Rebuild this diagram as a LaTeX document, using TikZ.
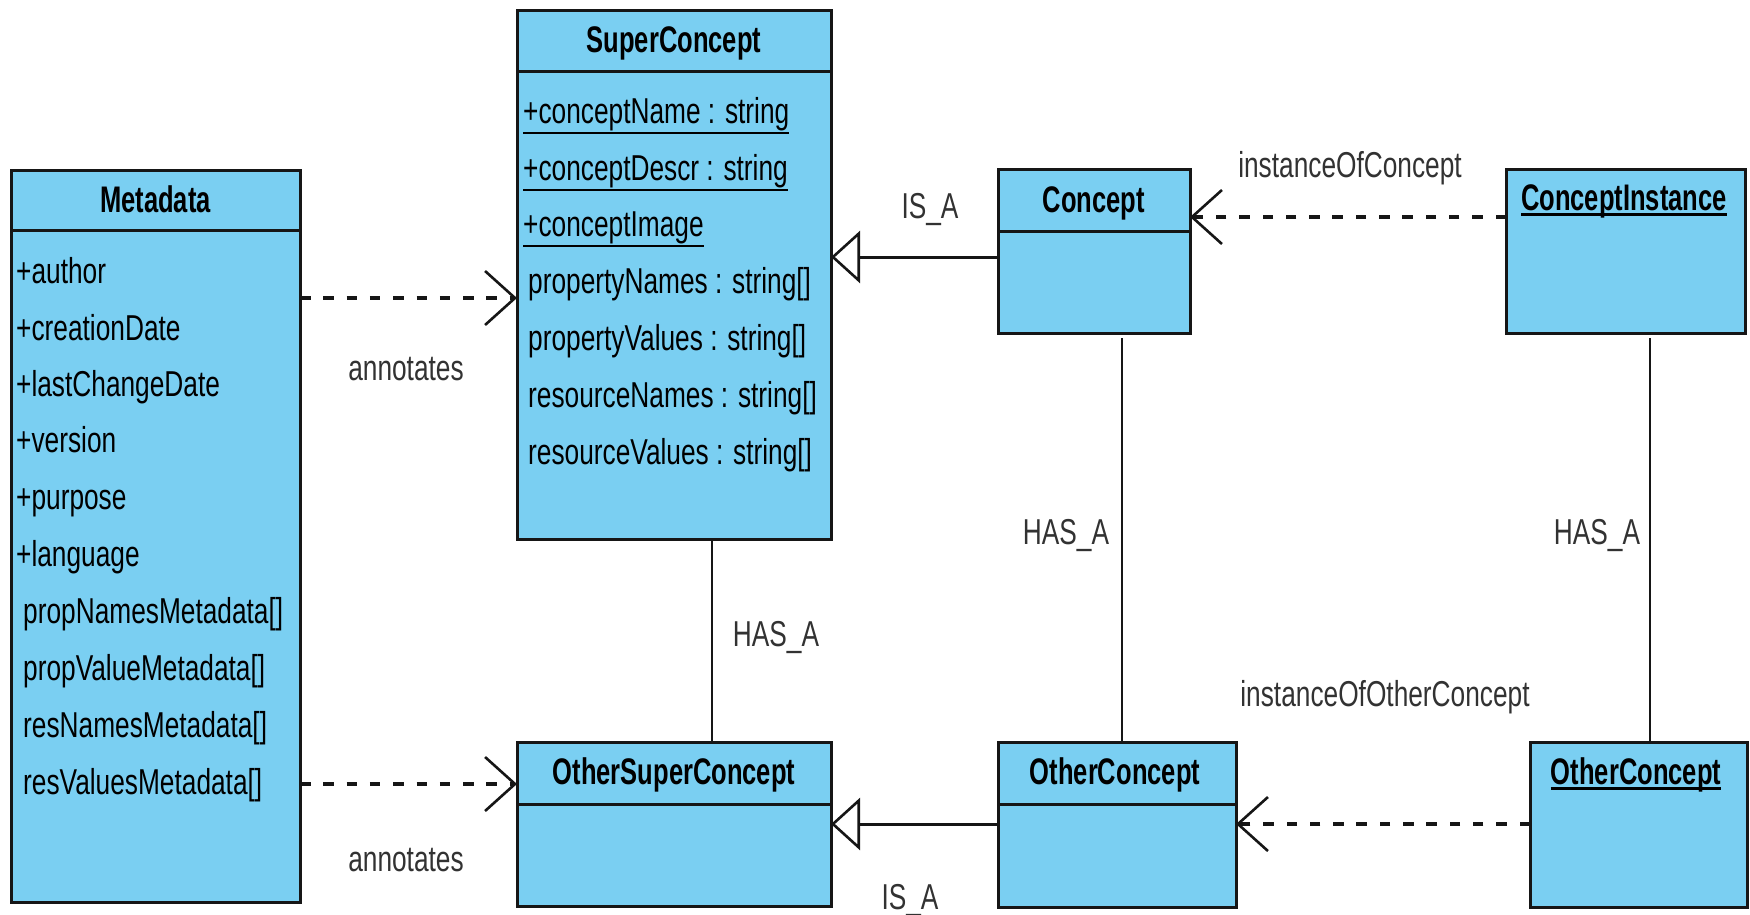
\documentclass[tikz,border=0pt]{standalone}
\usepackage{fontspec}
\usetikzlibrary{arrows.meta}
\newfontfamily\umlreg{Liberation Sans}[FakeStretch=0.73]
\newfontfamily\umlhead{Liberation Sans}[FakeStretch=0.69]
\definecolor{classfill}{RGB}{122,207,242}
\definecolor{edgeline}{RGB}{22,22,22}
\definecolor{labelgray}{RGB}{50,50,50}
% underline a text with a rule of given drop and thickness
\newcommand\umlul[3]{\setbox0\hbox{#3}\rlap{\rule[-#1]{\wd0}{#2}}\box0}
\tikzset{
  classbox/.style={rectangle, draw=edgeline, line width=3pt, fill=classfill,
    inner sep=0pt, outer sep=0pt, anchor=north west},
  sepline/.style={draw=edgeline, line width=3pt},
  title/.style={font=\umlhead\bfseries\fontsize{37}{40}\selectfont, anchor=base,
    inner sep=0pt, text=black},
  attr/.style={font=\umlreg\fontsize{36}{40}\selectfont, anchor=base west,
    inner sep=0pt, text=black},
  lbl/.style={font=\umlreg\fontsize{36}{40}\selectfont, anchor=base,
    inner sep=0pt, text=labelgray},
  dep/.style={draw=edgeline, line width=3.2pt, dash pattern=on 10.5pt off 12.8pt,
    -{Straight Barb[length=30pt,width=54pt,line width=2.6pt]}},
  gen/.style={draw=edgeline, line width=3pt,
    -{Triangle[open,length=29pt,width=52pt,line width=2.6pt]}},
  assoc/.style={draw=edgeline, line width=1.8pt},
}
\begin{document}
\begin{tikzpicture}[x=1pt,y=-1pt]
\useasboundingbox (0,0) rectangle (1750,914);

% class boxes
\node[classbox, minimum width=289pt, minimum height=732pt] (meta)  at (11,170) {};
\node[classbox, minimum width=314pt, minimum height=529pt] (sup)   at (517,10) {};
\node[classbox, minimum width=192pt, minimum height=164pt] (con)   at (998,169) {};
\node[classbox, minimum width=239pt, minimum height=164pt] (cinst) at (1506,169) {};
\node[classbox, minimum width=314pt, minimum height=164pt] (osup)  at (517,742) {};
\node[classbox, minimum width=238pt, minimum height=165pt] (ocon)  at (998,742) {};
\node[classbox, minimum width=217pt, minimum height=165pt] (oinst) at (1530,742) {};

% compartment separators
\draw[sepline] (meta.west |- 0,230) -- (meta.east |- 0,230);
\draw[sepline] (sup.west |- 0,71) -- (sup.east |- 0,71);
\draw[sepline] (con.west |- 0,231) -- (con.east |- 0,231);
\draw[sepline] (osup.west |- 0,804) -- (osup.east |- 0,804);
\draw[sepline] (ocon.west |- 0,804) -- (ocon.east |- 0,804);

% class names
\node[title] (metaT)  at (155.5,212) {Metadata};
\node[title] (supT)   at (674,52) {SuperConcept};
\node[title] (conT)   at (1094,212) {Concept};
\node[title] (cinstT) at (1624,210) {\umlul{5.5pt}{2.5pt}{ConceptInstance}};
\node[title] (osupT)  at (674,784) {OtherSuperConcept};
\node[title] (oconT)  at (1115,784) {OtherConcept};
\node[title] (oinstT) at (1636,784) {\umlul{5.5pt}{2.5pt}{OtherConcept}};

% Metadata attributes
\node[attr] (m1)  at (16,283) {+author};
\node[attr] (m2)  at (16,340) {+creationDate};
\node[attr] (m3)  at (16,396) {+lastChangeDate};
\node[attr] (m4)  at (16,452) {+version};
\node[attr] (m5)  at (16,509) {+purpose};
\node[attr] (m6)  at (16,566) {+language};
\node[attr] (m7)  at (23,623) {propNamesMetadata[]};
\node[attr] (m8)  at (23,680) {propValueMetadata[]};
\node[attr] (m9)  at (23,737) {resNamesMetadata[]};
\node[attr] (m10) at (23,794) {resValuesMetadata[]};

% SuperConcept attributes
\node[attr] (s1) at (523,123) {\umlul{10.7pt}{2pt}{+conceptName : string}};
\node[attr] (s2) at (523,180) {\umlul{10.7pt}{2pt}{+conceptDescr : string}};
\node[attr] (s3) at (523,236) {\umlul{10.7pt}{2pt}{+conceptImage}};
\node[attr] (s4) at (528,293) {propertyNames : string[]};
\node[attr] (s5) at (528,350) {propertyValues : string[]};
\node[attr] (s6) at (528,407) {resourceNames : string[]};
\node[attr] (s7) at (528,464) {resourceValues : string[]};

% dependencies
\draw[dep] (meta.east |- 0,298) -- (sup.west |- 0,298);
\draw[dep] (meta.east |- 0,784) -- (osup.west |- 0,784);
\draw[dep] (cinst.west |- 0,217) -- (con.east |- 0,217);
\draw[dep] (oinst.west |- 0,824) -- (ocon.east |- 0,824);

% generalizations
\draw[gen] (con.west |- 0,257) -- (sup.east |- 0,257);
\draw[gen] (ocon.west |- 0,824) -- (osup.east |- 0,824);

% associations
\draw[assoc] (sup.south -| 712,0) -- (osup.north -| 712,0);
\draw[assoc, shorten <=5pt] (con.south -| 1122,0) -- (ocon.north -| 1122,0);
\draw[assoc, shorten <=5pt] (cinst.south -| 1650,0) -- (oinst.north -| 1650,0);

% connector labels
\node[lbl] (ann1) at (406,380) {annotates};
\node[lbl] (ann2) at (406,871) {annotates};
\node[lbl] (isa1) at (930,218) {IS\_A};
\node[lbl] (isa2) at (910,909) {IS\_A};
\node[lbl] (has1) at (776,646) {HAS\_A};
\node[lbl] (has2) at (1066,544) {HAS\_A};
\node[lbl] (has3) at (1597,544) {HAS\_A};
\node[lbl] (inst1) at (1350,177) {instanceOfConcept};
\node[lbl] (inst2) at (1385,706) {instanceOfOtherConcept};
\end{tikzpicture}
\end{document}
